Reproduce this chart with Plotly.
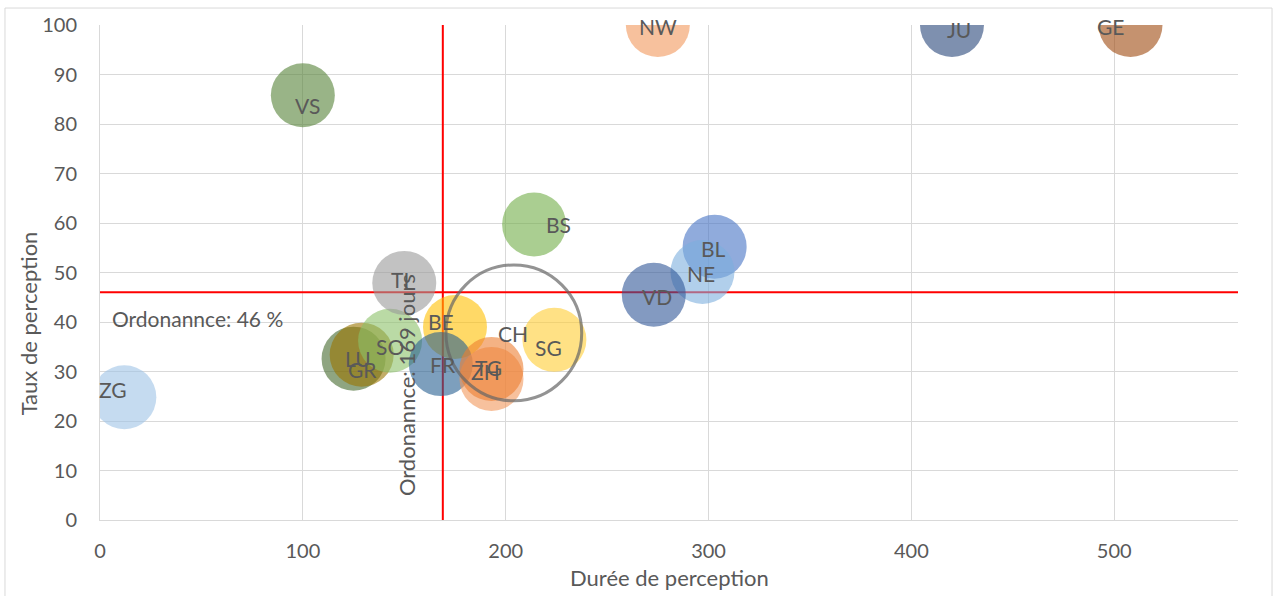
import plotly.graph_objects as go

# Cantons: durée de perception (jours), taux de perception (%), poids de la bulle
cantons = ["ZG", "VS", "GR", "LU", "SO", "TI", "BE", "FR", "ZH", "TG",
           "BS", "SG", "BL", "NE", "VD", "NW", "JU", "GE"]
duree = [12, 100, 125, 129, 143, 150, 175, 168, 193, 193,
         214, 224, 303, 297, 273, 275, 420, 508]
taux = [24.8, 85.8, 32.6, 33.4, 36.2, 47.9, 39.0, 31.5, 28.5, 30.5,
        59.7, 36.4, 55.2, 50.1, 45.5, 100, 100, 100]
poids = [20, 20, 20, 20, 20, 20, 20, 20, 20, 20,
         20, 20, 20, 20, 20, 20, 20, 20]

# Moyenne suisse
suisse = "CH"
duree_ch = 204
taux_ch = 37.8
poids_ch = 90

# Valeurs de l'ordonnance
seuil_duree = 169
seuil_taux = 46

x_ticks = [0, 100, 200, 300, 400, 500]
y_ticks = [0, 10, 20, 30, 40, 50, 60, 70, 80, 90, 100]

# Couleurs des bulles
couleurs = {
    "ZG": "#9DC3E6", "VS": "#548235", "GR": "#43682B", "LU": "#997300",
    "SO": "#8CC168", "TI": "#999999", "BE": "#FFC000", "FR": "#255E91",
    "ZH": "#F1975A", "TG": "#ED7D31", "BS": "#70AD47", "SG": "#FFCD33",
    "BL": "#4472C4", "NE": "#7CAFDD", "VD": "#2F5597", "NW": "#F1975A",
    "JU": "#264478", "GE": "#9E480E",
}
# Décalage des étiquettes (px, vers la droite / vers le bas)
decalage = {
    "ZG": (-11, -8), "VS": (5, 10), "GR": (9, 11), "LU": (-4, 4),
    "SO": (0, 6), "TI": (-4, -3), "BE": (-14, -5), "FR": (2, 0),
    "ZH": (-6, -7), "TG": (-3, -2), "BS": (24, 0), "SG": (-6, 8),
    "BL": (-1, 2), "NE": (-1, 1), "VD": (3, 2), "NW": (0, 1),
    "JU": (7, 4), "GE": (-20, 1), "CH": (-1, 1),
}

def rgba(hex_color, alpha):
    h = hex_color.lstrip("#")
    r, g, b = int(h[0:2], 16), int(h[2:4], 16), int(h[4:6], 16)
    return f"rgba({r},{g},{b},{alpha})"

X_MAX = 561
TXT = "#595959"
FONT = "Lato"
diam_ref = 64
sizeref = 2.0 * max(poids) / diam_ref ** 2

fig = go.Figure()

# Lignes de l'ordonnance
fig.add_trace(go.Scatter(x=[0, X_MAX], y=[seuil_taux, seuil_taux], mode="lines",
                         line=dict(color="#FF0000", width=2), hoverinfo="skip"))
fig.add_trace(go.Scatter(x=[seuil_duree, seuil_duree], y=[0, 100], mode="lines",
                         line=dict(color="#FF0000", width=2), hoverinfo="skip"))

# Bulles des cantons
fig.add_trace(go.Scatter(
    x=duree, y=taux, mode="markers", text=cantons,
    marker=dict(size=poids, sizemode="area", sizeref=sizeref,
                color=[rgba(couleurs[c], 0.85) for c in cantons],
                line=dict(width=0)),
    cliponaxis=True,
))

# Bulle suisse (contour)
fig.add_trace(go.Scatter(
    x=[duree_ch], y=[taux_ch], mode="markers", text=[suisse],
    marker=dict(size=[poids_ch], sizemode="area", sizeref=sizeref,
                color="rgba(0,0,0,0)", line=dict(width=3, color="#666666")),
    cliponaxis=True,
))

annotations = []
for c, xv, yv in list(zip(cantons, duree, taux)) + [(suisse, duree_ch, taux_ch)]:
    dx, dy = decalage[c]
    annotations.append(dict(x=xv, y=yv, text=c, showarrow=False,
                            xshift=dx, yshift=-dy,
                            font=dict(family=FONT, size=21, color=TXT)))

annotations.append(dict(x=0, y=seuil_taux, xanchor="left", yanchor="middle",
                        xshift=10, yshift=-26, showarrow=False,
                        text="Ordonannce: 46 %",
                        font=dict(family=FONT, size=21, color=TXT)))
annotations.append(dict(x=seuil_duree, y=seuil_taux, xanchor="center", yanchor="middle",
                        xshift=-37, yshift=-93, showarrow=False, textangle=-90,
                        text="Ordonannce: 169 jours",
                        font=dict(family=FONT, size=22, color=TXT)))

# Titres des axes
annotations.append(dict(xref="paper", yref="paper", x=0.5, y=-0.117,
                        xanchor="center", yanchor="middle", showarrow=False,
                        text="Durée de perception",
                        font=dict(family=FONT, size=22, color=TXT)))
annotations.append(dict(xref="paper", yref="paper", x=-0.0625, y=0.397,
                        xanchor="center", yanchor="middle", showarrow=False,
                        textangle=-90, text="Taux de perception",
                        font=dict(family=FONT, size=22, color=TXT)))

fig.update_layout(
    width=1274, height=596,
    margin=dict(l=100, r=36, t=25, b=76),
    paper_bgcolor="white", plot_bgcolor="white",
    showlegend=False,
    font=dict(family=FONT, size=20, color=TXT),
    annotations=annotations,
    shapes=[dict(type="rect", xref="paper", yref="paper",
                 x0=-0.0835, x1=1.0299, y0=-0.17, y1=1.0343,
                 line=dict(color="#D9D9D9", width=1), layer="below")],
)
fig.update_xaxes(range=[0, X_MAX], tickvals=x_ticks, showgrid=True,
                 gridcolor="#D9D9D9", gridwidth=1, zeroline=False,
                 showline=True, linecolor="#D9D9D9", linewidth=1,
                 ticks="", ticklabelstandoff=13,
                 tickfont=dict(family=FONT, size=20, color=TXT))
fig.update_yaxes(range=[0, 100], tickvals=y_ticks, showgrid=True,
                 gridcolor="#D9D9D9", gridwidth=1, zeroline=False,
                 showline=True, linecolor="#D9D9D9", linewidth=1,
                 ticks="", ticklabelstandoff=18,
                 tickfont=dict(family=FONT, size=20, color=TXT))

fig.write_html("out.html")
